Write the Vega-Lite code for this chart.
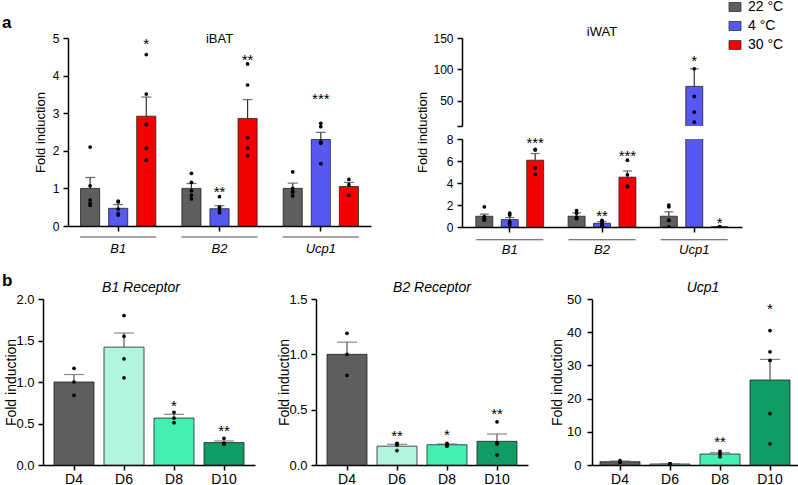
{
  "$schema": "https://vega.github.io/schema/vega-lite/v6.json",
  "padding": {"left": 1, "top": 0, "right": 0, "bottom": 0},
  "background": "white",
  "config": {
    "font": "Liberation Sans",
    "view": {"stroke": null},
    "axis": {"domainColor": "#000", "domainWidth": 1.5, "tickColor": "#000", "tickWidth": 1.5, "tickSize": 5, "labelColor": "#000", "titleColor": "#000", "grid": false, "titleFontWeight": "normal", "labelFontSize": 12, "titleFontSize": 13, "labelPadding": 4, "labelOverlap": false},
    "title": {"fontWeight": "normal", "fontSize": 13, "color": "#000"},
    "bar": {"stroke": "#222", "strokeWidth": 1, "strokeOpacity": 0.8}
  },
  "datasets": {
    "aMean": [
      {"tissue": "iBAT", "gene": "B1", "temp": "22 °C", "mean": 1.0, "hi": 1.29},
      {"tissue": "iBAT", "gene": "B1", "temp": "4 °C", "mean": 0.47, "hi": 0.57},
      {"tissue": "iBAT", "gene": "B1", "temp": "30 °C", "mean": 2.92, "hi": 3.43, "sig": "*", "sigY": 4.95},
      {"tissue": "iBAT", "gene": "B2", "temp": "22 °C", "mean": 1.0, "hi": 1.13},
      {"tissue": "iBAT", "gene": "B2", "temp": "4 °C", "mean": 0.46, "hi": 0.54, "sig": "**", "sigY": 1.0},
      {"tissue": "iBAT", "gene": "B2", "temp": "30 °C", "mean": 2.86, "hi": 3.36, "sig": "**", "sigY": 4.51},
      {"tissue": "iBAT", "gene": "Ucp1", "temp": "22 °C", "mean": 1.0, "hi": 1.14},
      {"tissue": "iBAT", "gene": "Ucp1", "temp": "4 °C", "mean": 2.3, "hi": 2.49, "sig": "***", "sigY": 3.49},
      {"tissue": "iBAT", "gene": "Ucp1", "temp": "30 °C", "mean": 1.05, "hi": 1.16},
      {"tissue": "iWAT", "gene": "B1", "temp": "22 °C", "mean": 0.98, "hi": 1.17},
      {"tissue": "iWAT", "gene": "B1", "temp": "4 °C", "mean": 0.67, "hi": 0.86},
      {"tissue": "iWAT", "gene": "B1", "temp": "30 °C", "mean": 6.07, "hi": 6.68, "sig": "***", "sigY": 8.0},
      {"tissue": "iWAT", "gene": "B2", "temp": "22 °C", "mean": 0.98, "hi": 1.29},
      {"tissue": "iWAT", "gene": "B2", "temp": "4 °C", "mean": 0.34, "hi": 0.49, "sig": "**", "sigY": 1.4},
      {"tissue": "iWAT", "gene": "B2", "temp": "30 °C", "mean": 4.53, "hi": 5.09, "sig": "***", "sigY": 6.83},
      {"tissue": "iWAT", "gene": "Ucp1", "temp": "22 °C", "mean": 0.98, "hi": 1.38},
      {"tissue": "iWAT", "gene": "Ucp1", "temp": "4 °C", "mean": 73, "hi": 101, "sig": "*", "sigY": 119.5},
      {"tissue": "iWAT", "gene": "Ucp1", "temp": "30 °C", "mean": 0.02, "hi": 0.03, "sig": "*", "sigY": 0.7}
    ],
    "aPts": [
      {"tissue": "iBAT", "gene": "B1", "temp": "22 °C", "v": 2.1},
      {"tissue": "iBAT", "gene": "B1", "temp": "22 °C", "v": 1.07},
      {"tissue": "iBAT", "gene": "B1", "temp": "22 °C", "v": 0.69},
      {"tissue": "iBAT", "gene": "B1", "temp": "22 °C", "v": 0.6},
      {"tissue": "iBAT", "gene": "B1", "temp": "22 °C", "v": 0.55},
      {"tissue": "iBAT", "gene": "B1", "temp": "4 °C", "v": 0.66},
      {"tissue": "iBAT", "gene": "B1", "temp": "4 °C", "v": 0.64},
      {"tissue": "iBAT", "gene": "B1", "temp": "4 °C", "v": 0.45},
      {"tissue": "iBAT", "gene": "B1", "temp": "4 °C", "v": 0.33},
      {"tissue": "iBAT", "gene": "B1", "temp": "4 °C", "v": 0.29},
      {"tissue": "iBAT", "gene": "B1", "temp": "30 °C", "v": 4.56},
      {"tissue": "iBAT", "gene": "B1", "temp": "30 °C", "v": 3.51},
      {"tissue": "iBAT", "gene": "B1", "temp": "30 °C", "v": 2.7},
      {"tissue": "iBAT", "gene": "B1", "temp": "30 °C", "v": 2.07},
      {"tissue": "iBAT", "gene": "B1", "temp": "30 °C", "v": 1.75},
      {"tissue": "iBAT", "gene": "B2", "temp": "22 °C", "v": 1.4},
      {"tissue": "iBAT", "gene": "B2", "temp": "22 °C", "v": 1.16},
      {"tissue": "iBAT", "gene": "B2", "temp": "22 °C", "v": 0.94},
      {"tissue": "iBAT", "gene": "B2", "temp": "22 °C", "v": 0.82},
      {"tissue": "iBAT", "gene": "B2", "temp": "22 °C", "v": 0.72},
      {"tissue": "iBAT", "gene": "B2", "temp": "4 °C", "v": 0.78},
      {"tissue": "iBAT", "gene": "B2", "temp": "4 °C", "v": 0.5},
      {"tissue": "iBAT", "gene": "B2", "temp": "4 °C", "v": 0.43},
      {"tissue": "iBAT", "gene": "B2", "temp": "4 °C", "v": 0.37},
      {"tissue": "iBAT", "gene": "B2", "temp": "4 °C", "v": 0.35},
      {"tissue": "iBAT", "gene": "B2", "temp": "30 °C", "v": 4.31},
      {"tissue": "iBAT", "gene": "B2", "temp": "30 °C", "v": 3.75},
      {"tissue": "iBAT", "gene": "B2", "temp": "30 °C", "v": 2.35},
      {"tissue": "iBAT", "gene": "B2", "temp": "30 °C", "v": 2.07},
      {"tissue": "iBAT", "gene": "B2", "temp": "30 °C", "v": 1.87},
      {"tissue": "iBAT", "gene": "Ucp1", "temp": "22 °C", "v": 1.44},
      {"tissue": "iBAT", "gene": "Ucp1", "temp": "22 °C", "v": 1.0},
      {"tissue": "iBAT", "gene": "Ucp1", "temp": "22 °C", "v": 0.91},
      {"tissue": "iBAT", "gene": "Ucp1", "temp": "22 °C", "v": 0.9},
      {"tissue": "iBAT", "gene": "Ucp1", "temp": "22 °C", "v": 0.8},
      {"tissue": "iBAT", "gene": "Ucp1", "temp": "4 °C", "v": 2.73},
      {"tissue": "iBAT", "gene": "Ucp1", "temp": "4 °C", "v": 2.64},
      {"tissue": "iBAT", "gene": "Ucp1", "temp": "4 °C", "v": 2.24},
      {"tissue": "iBAT", "gene": "Ucp1", "temp": "4 °C", "v": 2.2},
      {"tissue": "iBAT", "gene": "Ucp1", "temp": "4 °C", "v": 1.66},
      {"tissue": "iBAT", "gene": "Ucp1", "temp": "30 °C", "v": 1.24},
      {"tissue": "iBAT", "gene": "Ucp1", "temp": "30 °C", "v": 1.1},
      {"tissue": "iBAT", "gene": "Ucp1", "temp": "30 °C", "v": 0.82},
      {"tissue": "iWAT", "gene": "B1", "temp": "22 °C", "v": 1.84},
      {"tissue": "iWAT", "gene": "B1", "temp": "22 °C", "v": 0.95},
      {"tissue": "iWAT", "gene": "B1", "temp": "22 °C", "v": 0.8},
      {"tissue": "iWAT", "gene": "B1", "temp": "22 °C", "v": 0.68},
      {"tissue": "iWAT", "gene": "B1", "temp": "22 °C", "v": 0.62},
      {"tissue": "iWAT", "gene": "B1", "temp": "4 °C", "v": 1.26},
      {"tissue": "iWAT", "gene": "B1", "temp": "4 °C", "v": 1.08},
      {"tissue": "iWAT", "gene": "B1", "temp": "4 °C", "v": 0.49},
      {"tissue": "iWAT", "gene": "B1", "temp": "4 °C", "v": 0.34},
      {"tissue": "iWAT", "gene": "B1", "temp": "4 °C", "v": 0.18},
      {"tissue": "iWAT", "gene": "B1", "temp": "30 °C", "v": 7.05},
      {"tissue": "iWAT", "gene": "B1", "temp": "30 °C", "v": 7.0},
      {"tissue": "iWAT", "gene": "B1", "temp": "30 °C", "v": 5.36},
      {"tissue": "iWAT", "gene": "B1", "temp": "30 °C", "v": 4.78},
      {"tissue": "iWAT", "gene": "B2", "temp": "22 °C", "v": 1.5},
      {"tissue": "iWAT", "gene": "B2", "temp": "22 °C", "v": 1.25},
      {"tissue": "iWAT", "gene": "B2", "temp": "22 °C", "v": 0.9},
      {"tissue": "iWAT", "gene": "B2", "temp": "22 °C", "v": 0.8},
      {"tissue": "iWAT", "gene": "B2", "temp": "22 °C", "v": 0.75},
      {"tissue": "iWAT", "gene": "B2", "temp": "4 °C", "v": 0.6},
      {"tissue": "iWAT", "gene": "B2", "temp": "4 °C", "v": 0.55},
      {"tissue": "iWAT", "gene": "B2", "temp": "4 °C", "v": 0.43},
      {"tissue": "iWAT", "gene": "B2", "temp": "4 °C", "v": 0.25},
      {"tissue": "iWAT", "gene": "B2", "temp": "4 °C", "v": 0.09},
      {"tissue": "iWAT", "gene": "B2", "temp": "30 °C", "v": 6.07},
      {"tissue": "iWAT", "gene": "B2", "temp": "30 °C", "v": 4.75},
      {"tissue": "iWAT", "gene": "B2", "temp": "30 °C", "v": 3.71},
      {"tissue": "iWAT", "gene": "B2", "temp": "30 °C", "v": 3.68},
      {"tissue": "iWAT", "gene": "Ucp1", "temp": "22 °C", "v": 2.0},
      {"tissue": "iWAT", "gene": "Ucp1", "temp": "22 °C", "v": 1.84},
      {"tissue": "iWAT", "gene": "Ucp1", "temp": "22 °C", "v": 0.62},
      {"tissue": "iWAT", "gene": "Ucp1", "temp": "22 °C", "v": 0.6},
      {"tissue": "iWAT", "gene": "Ucp1", "temp": "22 °C", "v": 0.02},
      {"tissue": "iWAT", "gene": "Ucp1", "temp": "4 °C", "v": 101},
      {"tissue": "iWAT", "gene": "Ucp1", "temp": "4 °C", "v": 57},
      {"tissue": "iWAT", "gene": "Ucp1", "temp": "4 °C", "v": 32},
      {"tissue": "iWAT", "gene": "Ucp1", "temp": "4 °C", "v": 16},
      {"tissue": "iWAT", "gene": "Ucp1", "temp": "30 °C", "v": 0.02},
      {"tissue": "iWAT", "gene": "Ucp1", "temp": "30 °C", "v": 0.02},
      {"tissue": "iWAT", "gene": "Ucp1", "temp": "30 °C", "v": 0.03},
      {"tissue": "iWAT", "gene": "Ucp1", "temp": "30 °C", "v": 0.01}
    ],
    "bMean": [
      {"panel": "B1 Receptor", "day": "D4", "mean": 1.0, "hi": 1.09},
      {"panel": "B1 Receptor", "day": "D6", "mean": 1.42, "hi": 1.59},
      {"panel": "B1 Receptor", "day": "D8", "mean": 0.565, "hi": 0.61, "sig": "*", "sigY": 0.755},
      {"panel": "B1 Receptor", "day": "D10", "mean": 0.27, "hi": 0.29, "sig": "**", "sigY": 0.46},
      {"panel": "B2 Receptor", "day": "D4", "mean": 1.0, "hi": 1.11},
      {"panel": "B2 Receptor", "day": "D6", "mean": 0.17, "hi": 0.187, "sig": "**", "sigY": 0.3},
      {"panel": "B2 Receptor", "day": "D8", "mean": 0.183, "hi": 0.19, "sig": "*", "sigY": 0.31},
      {"panel": "B2 Receptor", "day": "D10", "mean": 0.214, "hi": 0.28, "sig": "**", "sigY": 0.5},
      {"panel": "Ucp1", "day": "D4", "mean": 1.0, "hi": 1.2},
      {"panel": "Ucp1", "day": "D6", "mean": 0.3, "hi": 0.35},
      {"panel": "Ucp1", "day": "D8", "mean": 3.3, "hi": 3.7, "sig": "**", "sigY": 8.0},
      {"panel": "Ucp1", "day": "D10", "mean": 25.6, "hi": 31.8, "sig": "*", "sigY": 48.2}
    ],
    "bPts": [
      {"panel": "B1 Receptor", "day": "D4", "v": 1.165},
      {"panel": "B1 Receptor", "day": "D4", "v": 1.0},
      {"panel": "B1 Receptor", "day": "D4", "v": 0.84},
      {"panel": "B1 Receptor", "day": "D6", "v": 1.8},
      {"panel": "B1 Receptor", "day": "D6", "v": 1.55},
      {"panel": "B1 Receptor", "day": "D6", "v": 1.28},
      {"panel": "B1 Receptor", "day": "D6", "v": 1.05},
      {"panel": "B1 Receptor", "day": "D8", "v": 0.635},
      {"panel": "B1 Receptor", "day": "D8", "v": 0.565},
      {"panel": "B1 Receptor", "day": "D8", "v": 0.51},
      {"panel": "B1 Receptor", "day": "D10", "v": 0.32},
      {"panel": "B1 Receptor", "day": "D10", "v": 0.26},
      {"panel": "B1 Receptor", "day": "D10", "v": 0.25},
      {"panel": "B1 Receptor", "day": "D10", "v": 0.26},
      {"panel": "B2 Receptor", "day": "D4", "v": 1.19},
      {"panel": "B2 Receptor", "day": "D4", "v": 1.0},
      {"panel": "B2 Receptor", "day": "D4", "v": 0.81},
      {"panel": "B2 Receptor", "day": "D6", "v": 0.196},
      {"panel": "B2 Receptor", "day": "D6", "v": 0.18},
      {"panel": "B2 Receptor", "day": "D6", "v": 0.19},
      {"panel": "B2 Receptor", "day": "D6", "v": 0.13},
      {"panel": "B2 Receptor", "day": "D8", "v": 0.196},
      {"panel": "B2 Receptor", "day": "D8", "v": 0.17},
      {"panel": "B2 Receptor", "day": "D8", "v": 0.18},
      {"panel": "B2 Receptor", "day": "D10", "v": 0.39},
      {"panel": "B2 Receptor", "day": "D10", "v": 0.2},
      {"panel": "B2 Receptor", "day": "D10", "v": 0.19},
      {"panel": "B2 Receptor", "day": "D10", "v": 0.09},
      {"panel": "Ucp1", "day": "D4", "v": 1.3},
      {"panel": "Ucp1", "day": "D4", "v": 0.9},
      {"panel": "Ucp1", "day": "D4", "v": 0.8},
      {"panel": "Ucp1", "day": "D6", "v": 0.35},
      {"panel": "Ucp1", "day": "D6", "v": 0.3},
      {"panel": "Ucp1", "day": "D6", "v": 0.28},
      {"panel": "Ucp1", "day": "D6", "v": 0.32},
      {"panel": "Ucp1", "day": "D6", "v": 0.25},
      {"panel": "Ucp1", "day": "D6", "v": 0.3},
      {"panel": "Ucp1", "day": "D8", "v": 4.1},
      {"panel": "Ucp1", "day": "D8", "v": 3.3},
      {"panel": "Ucp1", "day": "D8", "v": 2.5},
      {"panel": "Ucp1", "day": "D10", "v": 40.5},
      {"panel": "Ucp1", "day": "D10", "v": 34.1},
      {"panel": "Ucp1", "day": "D10", "v": 31.5},
      {"panel": "Ucp1", "day": "D10", "v": 15.5},
      {"panel": "Ucp1", "day": "D10", "v": 6.4}
    ]
  },
  "spacing": 16,
  "resolve": {"scale": {"color": "independent", "x": "independent", "y": "independent", "xOffset": "independent"}},
  "vconcat": [
    {
      "bounds": "flush",
      "spacing": 65,
      "resolve": {"scale": {"x": "independent", "y": "independent", "xOffset": "independent"}},
      "hconcat": [
        {
          "width": 2, "height": 2,
          "data": {"values": [{"lab": "a"}]},
          "mark": {"type": "text", "align": "left", "baseline": "alphabetic", "fontSize": 17, "fontWeight": "bold", "dy": -11},
          "encoding": {"text": {"field": "lab"}}
        },
        {
          "spacing": 44,
          "resolve": {"scale": {"x": "independent", "y": "independent", "xOffset": "independent"}},
          "hconcat": [
            {
              "width": 303, "height": 188,
              "title": {"text": "iBAT", "offset": -7, "dy": 7},
              "encoding": {
                "x": {"field": "gene", "type": "nominal", "sort": null, "scale": {"domain": ["B1", "B2", "Ucp1"], "paddingInner": 0.257, "paddingOuter": 0.124}, "axis": {"title": null, "labelAngle": 0, "labelFontStyle": "italic", "labelFontSize": 13, "labelPadding": 11}},
                "y": {"field": "mean", "type": "quantitative", "scale": {"domain": [0, 5], "nice": false}, "axis": {"title": "Fold induction", "values": [0, 1, 2, 3, 4, 5], "labelOverlap": false, "offset": 0, "titleX": -28, "titleY": 94, "titleAngle": 270, "titleAlign": "center", "titleBaseline": "middle"}}
              },
              "layer": [
                {
                  "data": {"name": "aMean"},
                  "transform": [{"filter": "datum.tissue === 'iBAT'"}],
                  "mark": {"type": "bar"},
                  "encoding": {
                    "xOffset": {"field": "temp", "type": "nominal", "scale": {"domain": ["22 °C", "4 °C", "30 °C"], "paddingInner": 0.32, "paddingOuter": 0}},
                    "color": {"field": "temp", "type": "nominal", "scale": {"domain": ["22 °C", "4 °C", "30 °C"], "range": ["#5e5e5e", "#5757f2", "#f50000"]}, "legend": {"orient": "none", "legendX": 727, "legendY": -38, "title": null, "symbolType": "M-1,-0.75H1V0.75H-1Z", "symbolSize": 144, "symbolStrokeColor": "#333", "symbolStrokeWidth": 1, "labelFontSize": 14, "labelOffset": 6, "rowPadding": 5, "padding": 0}}
                  }
                },
                {
                  "data": {"name": "aMean"},
                  "transform": [{"filter": "datum.tissue === 'iBAT'"}],
                  "mark": {"type": "rule", "color": "#333", "strokeWidth": 1.2},
                  "encoding": {
                    "xOffset": {"field": "temp", "type": "nominal", "scale": {"domain": ["22 °C", "4 °C", "30 °C"], "paddingInner": 0.32, "paddingOuter": 0}},
                    "y2": {"field": "hi"}
                  }
                },
                {
                  "data": {"name": "aMean"},
                  "transform": [{"filter": "datum.tissue === 'iBAT'"}],
                  "mark": {"type": "tick", "orient": "horizontal", "color": "#333", "thickness": 1.2, "size": 10},
                  "encoding": {
                    "xOffset": {"field": "temp", "type": "nominal", "scale": {"domain": ["22 °C", "4 °C", "30 °C"], "paddingInner": 0.32, "paddingOuter": 0}},
                    "y": {"field": "hi", "type": "quantitative"}
                  }
                },
                {
                  "data": {"name": "aPts"},
                  "transform": [{"filter": "datum.tissue === 'iBAT'"}],
                  "mark": {"type": "circle", "size": 14, "color": "#000", "opacity": 1},
                  "encoding": {
                    "xOffset": {"field": "temp", "type": "nominal", "scale": {"domain": ["22 °C", "4 °C", "30 °C"], "paddingInner": 0.32, "paddingOuter": 0}},
                    "y": {"field": "v", "type": "quantitative"}
                  }
                },
                {
                  "data": {"name": "aMean"},
                  "transform": [{"filter": "datum.tissue === 'iBAT' && isValid(datum.sig)"}],
                  "mark": {"type": "text", "fontSize": 15, "baseline": "middle", "dy": 4, "color": "#000"},
                  "encoding": {
                    "xOffset": {"field": "temp", "type": "nominal", "scale": {"domain": ["22 °C", "4 °C", "30 °C"], "paddingInner": 0.32, "paddingOuter": 0}},
                    "y": {"field": "sigY", "type": "quantitative"},
                    "text": {"field": "sig"}
                  }
                },
                {
                  "data": {"name": "aMean"},
                  "transform": [{"filter": "datum.tissue === 'iBAT' && datum.temp === '4 °C'"}],
                  "mark": {"type": "tick", "orient": "horizontal", "color": "#000", "thickness": 1, "size": 76},
                  "encoding": {"y": {"datum": -0.29}}
                }
              ]
            },
            {
              "spacing": -41,
              "resolve": {"scale": {"x": "independent", "y": "independent", "xOffset": "independent"}},
              "vconcat": [
                {
                  "width": 280, "height": 88,
                  "title": {"text": "iWAT", "offset": -7},
                  "encoding": {
                    "x": {"field": "gene", "type": "nominal", "sort": null, "scale": {"domain": ["B1", "B2", "Ucp1"], "paddingInner": 0.265, "paddingOuter": 0.15}, "axis": null},
                    "y": {"field": "mean", "type": "quantitative", "scale": {"domain": [10, 150], "nice": false, "zero": false}, "axis": {"title": null, "values": [10, 50, 100, 150], "labelOverlap": false, "tickCount": 4, "labelExpr": "datum.value == 10 ? '' : datum.label"}}
                  },
                  "layer": [
                    {
                      "data": {"name": "aMean"},
                      "transform": [{"filter": "datum.tissue === 'iWAT'"}],
                      "mark": {"type": "bar", "clip": true},
                      "encoding": {
                        "xOffset": {"field": "temp", "type": "nominal", "scale": {"domain": ["22 °C", "4 °C", "30 °C"], "paddingInner": 0.333, "paddingOuter": 0}},
                        "color": {"field": "temp", "type": "nominal", "scale": {"domain": ["22 °C", "4 °C", "30 °C"], "range": ["#5e5e5e", "#5757f2", "#f50000"]}, "legend": {"orient": "none", "legendX": 727, "legendY": -38, "title": null, "symbolType": "M-1,-0.75H1V0.75H-1Z", "symbolSize": 144, "symbolStrokeColor": "#333", "symbolStrokeWidth": 1, "labelFontSize": 14, "labelOffset": 6, "rowPadding": 5, "padding": 0}}
                      }
                    },
                    {
                      "data": {"name": "aMean"},
                      "transform": [{"filter": "datum.tissue === 'iWAT'"}],
                      "mark": {"type": "rule", "color": "#333", "strokeWidth": 1.2, "clip": true},
                      "encoding": {
                        "xOffset": {"field": "temp", "type": "nominal", "scale": {"domain": ["22 °C", "4 °C", "30 °C"], "paddingInner": 0.333, "paddingOuter": 0}},
                        "y2": {"field": "hi"}
                      }
                    },
                    {
                      "data": {"name": "aMean"},
                      "transform": [{"filter": "datum.tissue === 'iWAT'"}],
                      "mark": {"type": "tick", "orient": "horizontal", "color": "#333", "thickness": 1.2, "size": 9, "clip": true},
                      "encoding": {
                        "xOffset": {"field": "temp", "type": "nominal", "scale": {"domain": ["22 °C", "4 °C", "30 °C"], "paddingInner": 0.333, "paddingOuter": 0}},
                        "y": {"field": "hi", "type": "quantitative"}
                      }
                    },
                    {
                      "data": {"name": "aPts"},
                      "transform": [{"filter": "datum.tissue === 'iWAT'"}],
                      "mark": {"type": "circle", "size": 14, "color": "#000", "opacity": 1, "clip": true},
                      "encoding": {
                        "xOffset": {"field": "temp", "type": "nominal", "scale": {"domain": ["22 °C", "4 °C", "30 °C"], "paddingInner": 0.333, "paddingOuter": 0}},
                        "y": {"field": "v", "type": "quantitative"}
                      }
                    },
                    {
                      "data": {"name": "aMean"},
                      "transform": [{"filter": "datum.tissue === 'iWAT' && isValid(datum.sig) && datum.sigY > 10"}],
                      "mark": {"type": "text", "fontSize": 15, "baseline": "middle", "dy": 4, "color": "#000"},
                      "encoding": {
                        "xOffset": {"field": "temp", "type": "nominal", "scale": {"domain": ["22 °C", "4 °C", "30 °C"], "paddingInner": 0.333, "paddingOuter": 0}},
                        "y": {"field": "sigY", "type": "quantitative"},
                        "text": {"field": "sig"}
                      }
                    }
                  ]
                },
                {
                  "width": 280, "height": 88,
                  "encoding": {
                    "x": {"field": "gene", "type": "nominal", "sort": null, "scale": {"domain": ["B1", "B2", "Ucp1"], "paddingInner": 0.265, "paddingOuter": 0.15}, "axis": {"title": null, "labelAngle": 0, "labelFontStyle": "italic", "labelFontSize": 13, "labelPadding": 11}},
                    "y": {"field": "mean", "type": "quantitative", "scale": {"domain": [0, 8], "nice": false}, "axis": {"title": "Fold induction", "values": [0, 2, 4, 6, 8], "labelOverlap": false, "tickCount": 5, "titleX": -40, "titleY": -7, "titleAngle": 270, "titleAlign": "center", "titleBaseline": "middle"}}
                  },
                  "layer": [
                    {
                      "data": {"name": "aMean"},
                      "transform": [{"filter": "datum.tissue === 'iWAT'"}],
                      "mark": {"type": "bar", "clip": true},
                      "encoding": {
                        "xOffset": {"field": "temp", "type": "nominal", "scale": {"domain": ["22 °C", "4 °C", "30 °C"], "paddingInner": 0.333, "paddingOuter": 0}},
                        "color": {"field": "temp", "type": "nominal", "scale": {"domain": ["22 °C", "4 °C", "30 °C"], "range": ["#5e5e5e", "#5757f2", "#f50000"]}, "legend": {"orient": "none", "legendX": 727, "legendY": -38, "title": null, "symbolType": "M-1,-0.75H1V0.75H-1Z", "symbolSize": 144, "symbolStrokeColor": "#333", "symbolStrokeWidth": 1, "labelFontSize": 14, "labelOffset": 6, "rowPadding": 5, "padding": 0}}
                      }
                    },
                    {
                      "data": {"name": "aMean"},
                      "transform": [{"filter": "datum.tissue === 'iWAT'"}],
                      "mark": {"type": "rule", "color": "#333", "strokeWidth": 1.2, "clip": true},
                      "encoding": {
                        "xOffset": {"field": "temp", "type": "nominal", "scale": {"domain": ["22 °C", "4 °C", "30 °C"], "paddingInner": 0.333, "paddingOuter": 0}},
                        "y2": {"field": "hi"}
                      }
                    },
                    {
                      "data": {"name": "aMean"},
                      "transform": [{"filter": "datum.tissue === 'iWAT'"}],
                      "mark": {"type": "tick", "orient": "horizontal", "color": "#333", "thickness": 1.2, "size": 9, "clip": true},
                      "encoding": {
                        "xOffset": {"field": "temp", "type": "nominal", "scale": {"domain": ["22 °C", "4 °C", "30 °C"], "paddingInner": 0.333, "paddingOuter": 0}},
                        "y": {"field": "hi", "type": "quantitative"}
                      }
                    },
                    {
                      "data": {"name": "aPts"},
                      "transform": [{"filter": "datum.tissue === 'iWAT'"}],
                      "mark": {"type": "circle", "size": 14, "color": "#000", "opacity": 1, "clip": true},
                      "encoding": {
                        "xOffset": {"field": "temp", "type": "nominal", "scale": {"domain": ["22 °C", "4 °C", "30 °C"], "paddingInner": 0.333, "paddingOuter": 0}},
                        "y": {"field": "v", "type": "quantitative"}
                      }
                    },
                    {
                      "data": {"name": "aMean"},
                      "transform": [{"filter": "datum.tissue === 'iWAT' && isValid(datum.sig) && datum.sigY < 9"}],
                      "mark": {"type": "text", "fontSize": 15, "baseline": "middle", "dy": 4, "color": "#000"},
                      "encoding": {
                        "xOffset": {"field": "temp", "type": "nominal", "scale": {"domain": ["22 °C", "4 °C", "30 °C"], "paddingInner": 0.333, "paddingOuter": 0}},
                        "y": {"field": "sigY", "type": "quantitative"},
                        "text": {"field": "sig"}
                      }
                    },
                    {
                      "data": {"name": "aMean"},
                      "transform": [{"filter": "datum.tissue === 'iWAT' && datum.temp === '4 °C'"}],
                      "mark": {"type": "tick", "orient": "horizontal", "color": "#000", "thickness": 1, "size": 67},
                      "encoding": {"y": {"datum": -1.15}}
                    }
                  ]
                }
              ]
            }
          ]
        }
      ]
    },
    {
      "bounds": "flush",
      "spacing": 40,
      "resolve": {"scale": {"x": "independent", "y": "independent", "xOffset": "independent"}},
      "hconcat": [
        {
          "width": 2, "height": 2,
          "data": {"values": [{"lab": "b"}]},
          "mark": {"type": "text", "align": "left", "baseline": "alphabetic", "fontSize": 17, "fontWeight": "bold", "dy": -14},
          "encoding": {"text": {"field": "lab"}}
        },
        {
          "spacing": 22,
          "resolve": {"scale": {"x": "independent", "y": "independent"}},
          "hconcat": [
            {
              "width": 212, "height": 166,
              "title": {"text": "B1 Receptor", "fontStyle": "italic", "fontSize": 14, "offset": -2, "dx": -8},
              "encoding": {
                "x": {"field": "day", "type": "nominal", "sort": null, "scale": {"domain": ["D4", "D6", "D8", "D10"], "paddingInner": 0.2, "paddingOuter": 0.22}, "axis": {"title": null, "labelAngle": 0, "labelFontSize": 14, "labelPadding": 2}},
                "y": {"field": "mean", "type": "quantitative", "scale": {"domain": [0, 2], "nice": false}, "axis": {"title": "Fold induction", "titleFontSize": 14, "labelFontSize": 13, "values": [0, 0.5, 1, 1.5, 2], "labelOverlap": false, "format": ".1f", "titleX": -32, "titleY": 83, "titleAngle": 270, "titleAlign": "center", "titleBaseline": "middle"}}
              },
              "layer": [
                {
                  "data": {"name": "bMean"},
                  "transform": [{"filter": "datum.panel === 'B1 Receptor'"}],
                  "mark": {"type": "bar"},
                  "encoding": {
                    "color": {"field": "day", "type": "nominal", "scale": {"domain": ["D4", "D6", "D8", "D10"], "range": ["#5e5e5e", "#b3f4df", "#45eeb1", "#119b65"]}, "legend": null}
                  }
                },
                {
                  "data": {"name": "bMean"},
                  "transform": [{"filter": "datum.panel === 'B1 Receptor'"}],
                  "mark": {"type": "rule", "color": "#555", "strokeWidth": 1.2},
                  "encoding": {"y2": {"field": "hi"}}
                },
                {
                  "data": {"name": "bMean"},
                  "transform": [{"filter": "datum.panel === 'B1 Receptor'"}],
                  "mark": {"type": "tick", "orient": "horizontal", "color": "#555", "thickness": 1.2, "size": 20},
                  "encoding": {"y": {"field": "hi", "type": "quantitative"}}
                },
                {
                  "data": {"name": "bPts"},
                  "transform": [{"filter": "datum.panel === 'B1 Receptor'"}],
                  "mark": {"type": "circle", "size": 14, "color": "#000", "opacity": 1},
                  "encoding": {"y": {"field": "v", "type": "quantitative"}}
                },
                {
                  "data": {"name": "bMean"},
                  "transform": [{"filter": "datum.panel === 'B1 Receptor' && isValid(datum.sig)"}],
                  "mark": {"type": "text", "fontSize": 15, "baseline": "middle", "dy": 4, "color": "#000"},
                  "encoding": {"y": {"field": "sigY", "type": "quantitative"}, "text": {"field": "sig"}}
                }
              ]
            },
            {
              "width": 212, "height": 166,
              "title": {"text": "B2 Receptor", "fontStyle": "italic", "fontSize": 14, "offset": -2, "dx": 10},
              "encoding": {
                "x": {"field": "day", "type": "nominal", "sort": null, "scale": {"domain": ["D4", "D6", "D8", "D10"], "paddingInner": 0.2, "paddingOuter": 0.22}, "axis": {"title": null, "labelAngle": 0, "labelFontSize": 14, "labelPadding": 2}},
                "y": {"field": "mean", "type": "quantitative", "scale": {"domain": [0, 1.5], "nice": false}, "axis": {"title": "Fold induction", "titleFontSize": 14, "labelFontSize": 13, "values": [0, 0.5, 1, 1.5], "labelOverlap": false, "format": ".1f", "titleX": -32, "titleY": 83, "titleAngle": 270, "titleAlign": "center", "titleBaseline": "middle"}}
              },
              "layer": [
                {
                  "data": {"name": "bMean"},
                  "transform": [{"filter": "datum.panel === 'B2 Receptor'"}],
                  "mark": {"type": "bar"},
                  "encoding": {
                    "color": {"field": "day", "type": "nominal", "scale": {"domain": ["D4", "D6", "D8", "D10"], "range": ["#5e5e5e", "#b3f4df", "#45eeb1", "#119b65"]}, "legend": null}
                  }
                },
                {
                  "data": {"name": "bMean"},
                  "transform": [{"filter": "datum.panel === 'B2 Receptor'"}],
                  "mark": {"type": "rule", "color": "#555", "strokeWidth": 1.2},
                  "encoding": {"y2": {"field": "hi"}}
                },
                {
                  "data": {"name": "bMean"},
                  "transform": [{"filter": "datum.panel === 'B2 Receptor'"}],
                  "mark": {"type": "tick", "orient": "horizontal", "color": "#555", "thickness": 1.2, "size": 20},
                  "encoding": {"y": {"field": "hi", "type": "quantitative"}}
                },
                {
                  "data": {"name": "bPts"},
                  "transform": [{"filter": "datum.panel === 'B2 Receptor'"}],
                  "mark": {"type": "circle", "size": 14, "color": "#000", "opacity": 1},
                  "encoding": {"y": {"field": "v", "type": "quantitative"}}
                },
                {
                  "data": {"name": "bMean"},
                  "transform": [{"filter": "datum.panel === 'B2 Receptor' && isValid(datum.sig)"}],
                  "mark": {"type": "text", "fontSize": 15, "baseline": "middle", "dy": 4, "color": "#000"},
                  "encoding": {"y": {"field": "sigY", "type": "quantitative"}, "text": {"field": "sig"}}
                }
              ]
            },
            {
              "width": 206, "height": 166,
              "title": {"text": "Ucp1", "fontStyle": "italic", "fontSize": 14, "offset": -2, "dx": 8},
              "encoding": {
                "x": {"field": "day", "type": "nominal", "sort": null, "scale": {"domain": ["D4", "D6", "D8", "D10"], "paddingInner": 0.2, "paddingOuter": 0.16}, "axis": {"title": null, "labelAngle": 0, "labelFontSize": 14, "labelPadding": 2}},
                "y": {"field": "mean", "type": "quantitative", "scale": {"domain": [0, 50], "nice": false}, "axis": {"title": "Fold induction", "titleFontSize": 14, "labelFontSize": 13, "values": [0, 10, 20, 30, 40, 50], "labelOverlap": false, "tickCount": 6, "labelPadding": 6, "titleX": -35, "titleY": 83, "titleAngle": 270, "titleAlign": "center", "titleBaseline": "middle"}}
              },
              "layer": [
                {
                  "data": {"name": "bMean"},
                  "transform": [{"filter": "datum.panel === 'Ucp1'"}],
                  "mark": {"type": "bar"},
                  "encoding": {
                    "color": {"field": "day", "type": "nominal", "scale": {"domain": ["D4", "D6", "D8", "D10"], "range": ["#5e5e5e", "#b3f4df", "#45eeb1", "#119b65"]}, "legend": null}
                  }
                },
                {
                  "data": {"name": "bMean"},
                  "transform": [{"filter": "datum.panel === 'Ucp1'"}],
                  "mark": {"type": "rule", "color": "#555", "strokeWidth": 1.2},
                  "encoding": {"y2": {"field": "hi"}}
                },
                {
                  "data": {"name": "bMean"},
                  "transform": [{"filter": "datum.panel === 'Ucp1'"}],
                  "mark": {"type": "tick", "orient": "horizontal", "color": "#555", "thickness": 1.2, "size": 20},
                  "encoding": {"y": {"field": "hi", "type": "quantitative"}}
                },
                {
                  "data": {"name": "bPts"},
                  "transform": [{"filter": "datum.panel === 'Ucp1'"}],
                  "mark": {"type": "circle", "size": 14, "color": "#000", "opacity": 1},
                  "encoding": {"y": {"field": "v", "type": "quantitative"}}
                },
                {
                  "data": {"name": "bMean"},
                  "transform": [{"filter": "datum.panel === 'Ucp1' && isValid(datum.sig)"}],
                  "mark": {"type": "text", "fontSize": 15, "baseline": "middle", "dy": 4, "color": "#000"},
                  "encoding": {"y": {"field": "sigY", "type": "quantitative"}, "text": {"field": "sig"}}
                }
              ]
            }
          ]
        }
      ]
    }
  ]
}
